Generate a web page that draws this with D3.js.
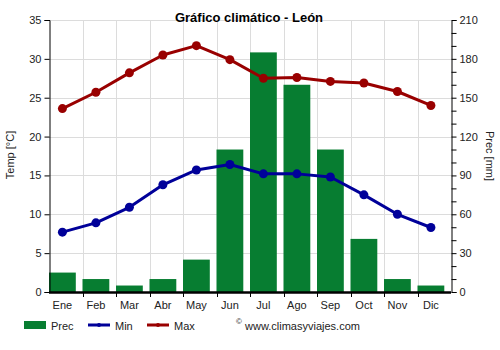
<!DOCTYPE html>
<html>
<head>
<meta charset="utf-8">
<script src="https://cdn.jsdelivr.net/npm/d3@7"></script>
<style>
  body { margin: 0; background: #fff; }
  svg { display: block; font-family: "Liberation Sans", Arial, sans-serif; }
</style>
</head>
<body>
<svg id="chart" width="500" height="350"></svg>
<script>
// Monthly climate data for León
const months = ["Ene", "Feb", "Mar", "Abr", "May", "Jun", "Jul", "Ago", "Sep", "Oct", "Nov", "Dic"];
const prec = [15, 10, 5, 10, 25, 110, 185, 160, 110, 41, 10, 5];
const tMin = [7.7, 8.9, 10.9, 13.8, 15.7, 16.4, 15.2, 15.2, 14.8, 12.5, 10.0, 8.3];
const tMax = [23.6, 25.7, 28.2, 30.5, 31.7, 29.9, 27.5, 27.6, 27.1, 26.9, 25.8, 24.0];
const tempTicks = [0, 5, 10, 15, 20, 25, 30, 35];
const precTicks = [0, 30, 60, 90, 120, 150, 180, 210];

const svg = d3.select("#chart");
const m = { left: 49, right: 451, top: 20, bottom: 292 };
const textCol = "#222";

const x = d3.scaleBand().domain(months).range([m.left, m.right]).paddingInner(0).paddingOuter(0);
const barW = x.bandwidth() * 0.8;
const cx = d => x(d) + barW / 2;
const yT = d3.scaleLinear().domain([0, 35]).range([m.bottom, m.top]);
const yP = d3.scaleLinear().domain([0, 210]).range([m.bottom, m.top]);

// grid
const grid = svg.append("g").attr("stroke", "#dcdcdc").attr("stroke-width", 1);
tempTicks.forEach(t => {
  grid.append("line").attr("x1", m.left).attr("x2", m.right)
    .attr("y1", Math.round(yT(t)) + 0.5).attr("y2", Math.round(yT(t)) + 0.5);
});
months.forEach((mo, i) => {
  if (i === 0) return;
  const xx = Math.round(x(mo)) + 0.5;
  grid.append("line").attr("x1", xx).attr("x2", xx).attr("y1", m.top).attr("y2", m.bottom);
});

// precipitation bars
svg.append("g").selectAll("rect").data(prec).join("rect")
  .attr("x", (d, i) => x(months[i]))
  .attr("width", barW)
  .attr("y", d => yP(d))
  .attr("height", d => yP(0) - yP(d))
  .attr("fill", "#077d31");

// bottom baseline
svg.append("line").attr("x1", m.left).attr("x2", m.right)
  .attr("y1", m.bottom + 0.5).attr("y2", m.bottom + 0.5)
  .attr("stroke", "#000").attr("stroke-width", 2.5);

// temperature lines
function series(vals, color) {
  const line = d3.line().x((d, i) => cx(months[i])).y(d => yT(d));
  svg.append("path").datum(vals).attr("d", line)
    .attr("fill", "none").attr("stroke", color).attr("stroke-width", 3)
    .attr("stroke-linejoin", "round");
  svg.append("g").selectAll("circle").data(vals).join("circle")
    .attr("cx", (d, i) => cx(months[i])).attr("cy", d => yT(d))
    .attr("r", 4.5).attr("fill", color);
}
series(tMax, "#990000");
series(tMin, "#000099");

// left axis
const leftAxis = svg.append("g").attr("transform", `translate(${m.left + 0.5},0)`)
  .call(d3.axisLeft(yT).tickValues(tempTicks).tickSize(5).tickPadding(3));
leftAxis.select(".domain").attr("stroke", "#000");
leftAxis.selectAll("text").attr("font-size", 11).attr("fill", textCol).attr("font-family", "Liberation Sans, Arial, sans-serif");

// right axis: minor ticks every 10 mm, labels every 30 mm
const rightAxis = svg.append("g").attr("transform", `translate(${m.right + 0.5},0)`)
  .call(d3.axisRight(yP).tickValues(d3.range(0, 211, 10)).tickSize(5).tickPadding(3)
    .tickFormat(d => precTicks.includes(d) ? d : ""));
rightAxis.select(".domain").attr("stroke", "#000");
rightAxis.selectAll("text").attr("font-size", 11).attr("fill", textCol).attr("font-family", "Liberation Sans, Arial, sans-serif");

// bottom axis ticks at month boundaries
const bt = svg.append("g");
months.forEach((mo, i) => {
  const xx = Math.round(x(mo)) + 0.5;
  if (i > 0) bt.append("line").attr("x1", xx).attr("x2", xx).attr("y1", m.bottom).attr("y2", m.bottom + 5).attr("stroke", "#000");
  bt.append("text").attr("x", cx(mo)).attr("y", m.bottom + 17).attr("text-anchor", "middle")
    .attr("font-size", 11).attr("fill", textCol).text(mo);
});

// title and axis titles
svg.append("text").attr("x", 249).attr("y", 22).attr("text-anchor", "middle")
  .attr("font-size", 13).attr("font-weight", "bold").attr("fill", "#000").text("Gráfico climático - León");
svg.append("text").attr("transform", "translate(14,155) rotate(-90)").attr("text-anchor", "middle")
  .attr("font-size", 11).attr("fill", textCol).text("Temp [°C]");
svg.append("text").attr("transform", "translate(486,156) rotate(90)").attr("text-anchor", "middle")
  .attr("font-size", 11).attr("fill", textCol).text("Prec [mm]");

// legend
const lg = svg.append("g").attr("font-size", 11).attr("fill", textCol);
lg.append("rect").attr("x", 24).attr("y", 321).attr("width", 22).attr("height", 8).attr("fill", "#077d31");
lg.append("text").attr("x", 51).attr("y", 330).text("Prec");
lg.append("line").attr("x1", 88).attr("x2", 110).attr("y1", 325).attr("y2", 325).attr("stroke", "#000099").attr("stroke-width", 3);
lg.append("circle").attr("cx", 99).attr("cy", 325).attr("r", 2).attr("fill", "#000099");
lg.append("text").attr("x", 115).attr("y", 330).text("Min");
lg.append("line").attr("x1", 147).attr("x2", 169).attr("y1", 325).attr("y2", 325).attr("stroke", "#990000").attr("stroke-width", 3);
lg.append("circle").attr("cx", 158).attr("cy", 325).attr("r", 2).attr("fill", "#990000");
lg.append("text").attr("x", 174).attr("y", 330).text("Max");
lg.append("text").attr("x", 236).attr("y", 324).attr("font-size", 8).text("©");
lg.append("text").attr("x", 245).attr("y", 330).text("www.climasyviajes.com");
</script>
</body>
</html>
